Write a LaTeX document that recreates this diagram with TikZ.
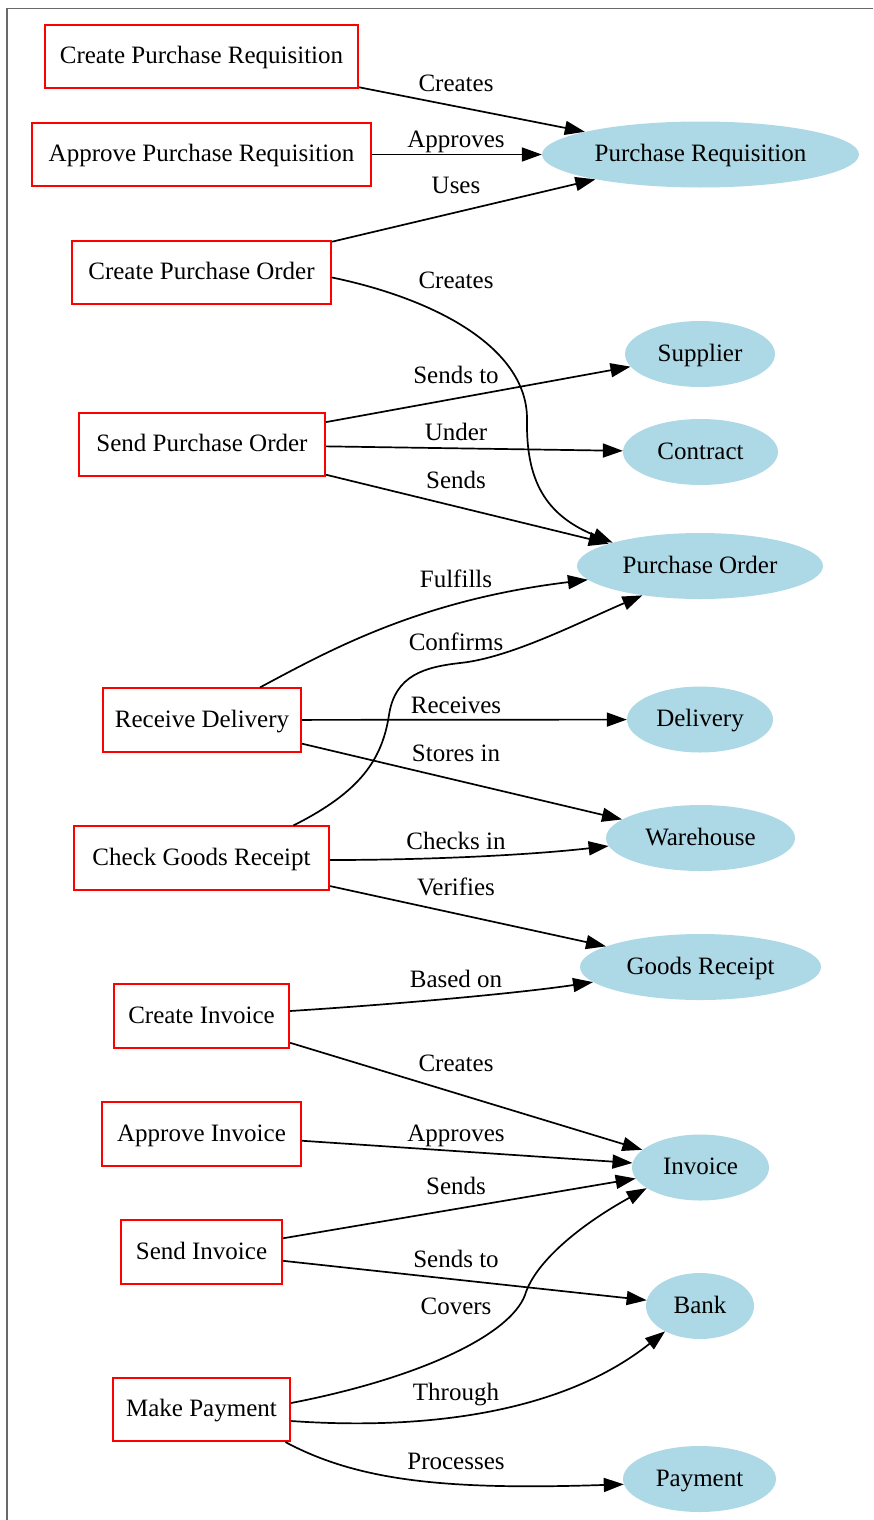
\documentclass[tikz,border=0pt]{standalone}
\usepackage{fontspec}
\setmainfont{Liberation Serif}
\usetikzlibrary{arrows.meta,shapes.geometric}
\definecolor{lblue}{RGB}{173,216,230}
\definecolor{framegray}{RGB}{105,105,105}
\newcommand\fsz{\fontsize{25}{30}\selectfont}
\begin{document}
\begin{tikzpicture}[x=1pt,y=-1pt,
  act/.style={draw=red,line width=1.7pt,fill=white,rectangle,minimum height=63.5pt,inner xsep=3pt,font=\fsz,text height=19pt,text depth=5pt},
  ent/.style={ellipse,fill=lblue,inner sep=0pt,minimum height=66pt,font=\fsz,text height=19pt,text depth=5pt},
  lbl/.style={anchor=base,font=\fsz,inner sep=0pt},
  conn/.style={line width=1.7pt,-{Triangle[length=20pt,width=14pt]}}
]
\useasboundingbox (0,0) rectangle (873,1520);
\draw[framegray,line width=1.3pt] (7,1520) -- (7,8.5) -- (873,8.5);

% activities
\node[act,minimum width=313.5pt] (cpr) at (201.5,56.5) {Create Purchase Requisition};
\node[act,minimum width=339.5pt] (apr) at (201.5,154.5) {Approve Purchase Requisition};
\node[act,minimum width=259.5pt] (cpo) at (201.5,272.5) {Create Purchase Order};
\node[act,minimum width=246.5pt] (spo) at (202,444.5) {Send Purchase Order};
\node[act,minimum width=198.5pt] (rd) at (202,720) {Receive Delivery};
\node[act,minimum width=255.5pt] (cgr) at (201.5,858) {Check Goods Receipt};
\node[act,minimum width=175.5pt] (ci) at (201.5,1016) {Create Invoice};
\node[act,minimum width=199.5pt] (ai) at (201.5,1134) {Approve Invoice};
\node[act,minimum width=161.5pt] (si) at (201.5,1252) {Send Invoice};
\node[act,minimum width=177.5pt] (mp) at (201.5,1409.5) {Make Payment};

% entities
\node[ent,minimum width=317pt] (pr) at (700.5,154.5) {Purchase Requisition};
\node[ent,minimum width=150pt] (sup) at (700,354) {Supplier};
\node[ent,minimum width=155pt] (con) at (700.5,452) {Contract};
\node[ent,minimum width=246pt] (po) at (700,566) {Purchase Order};
\node[ent,minimum width=146pt] (del) at (700,719.5) {Delivery};
\node[ent,minimum width=189pt] (wh) at (700.5,838) {Warehouse};
\node[ent,minimum width=241pt] (gr) at (700.5,967) {Goods Receipt};
\node[ent,minimum width=137pt] (inv) at (700.5,1167.5) {Invoice};
\node[ent,minimum width=108pt] (bank) at (700,1306) {Bank};
\node[ent,minimum width=153pt] (pay) at (699.5,1479) {Payment};

% straight connectors
\draw[conn] (cpr) -- (pr);
\draw[conn] (apr) -- (pr);
\draw[conn] (cpo) -- (pr);
\draw[conn] (spo) -- (sup);
\draw[conn] (spo) -- (con);
\draw[conn] (spo) -- (po);
\draw[conn] (rd) -- (del);
\draw[conn] (rd) -- (wh);
\draw[conn] (cgr) -- (gr);
\draw[conn] (ci) -- (inv);
\draw[conn] (ai) -- (inv);
\draw[conn] (si) -- (inv);
\draw[conn] (si) -- (bank);

% curved connectors
\draw[conn] ([yshift=-5pt]cpo.east) .. controls (440,300) and (528,350) .. (527,420) .. controls (526,480) and (545,515) .. (po.165);
\draw[conn] ([xshift=58pt]rd.north) .. controls (330,650) and (420,600) .. (po.187);
\draw[conn] ([xshift=92pt]cgr.north) .. controls (360,792) and (382,760) .. (389,715) .. controls (395,675) and (425,667) .. (460,663) .. controls (510,658) and (580,622) .. (po.207);
\draw[conn] ([yshift=-2pt]cgr.east) .. controls (430,860) and (530,855) .. (wh.185);
\draw[conn] ([yshift=5pt]ci.east) .. controls (400,1004) and (520,993) .. (gr.188);
\draw[conn] ([yshift=6.5pt]mp.east) .. controls (420,1378) and (510,1335) .. (525,1295) .. controls (535,1262) and (580,1225) .. (inv.201);
\draw[conn] ([yshift=-11.5pt]mp.east) .. controls (420,1430) and (560,1415) .. (bank.216);
\draw[conn] ([xshift=84pt]mp.south) .. controls (360,1482) and (450,1490) .. (pay.184);

% labels
\node[lbl] (l1) at (456,91) {Creates};
\node[lbl] (l2) at (456,147) {Approves};
\node[lbl] (l3) at (456,193) {Uses};
\node[lbl] (l4) at (456,288) {Creates};
\node[lbl] (l5) at (456,383) {Sends to};
\node[lbl] (l6) at (456,440) {Under};
\node[lbl] (l7) at (456,488) {Sends};
\node[lbl] (l8) at (456,587) {Fulfills};
\node[lbl] (l9) at (456,650) {Confirms};
\node[lbl] (l10) at (456,713) {Receives};
\node[lbl] (l11) at (456,761) {Stores in};
\node[lbl] (l12) at (456,849) {Checks in};
\node[lbl] (l13) at (456,895) {Verifies};
\node[lbl] (l14) at (456,987) {Based on};
\node[lbl] (l15) at (456,1071) {Creates};
\node[lbl] (l16) at (456,1141) {Approves};
\node[lbl] (l17) at (456,1194) {Sends};
\node[lbl] (l18) at (456,1267) {Sends to};
\node[lbl] (l19) at (456,1314) {Covers};
\node[lbl] (l20) at (456,1400) {Through};
\node[lbl] (l21) at (456,1469) {Processes};
\end{tikzpicture}
\end{document}
